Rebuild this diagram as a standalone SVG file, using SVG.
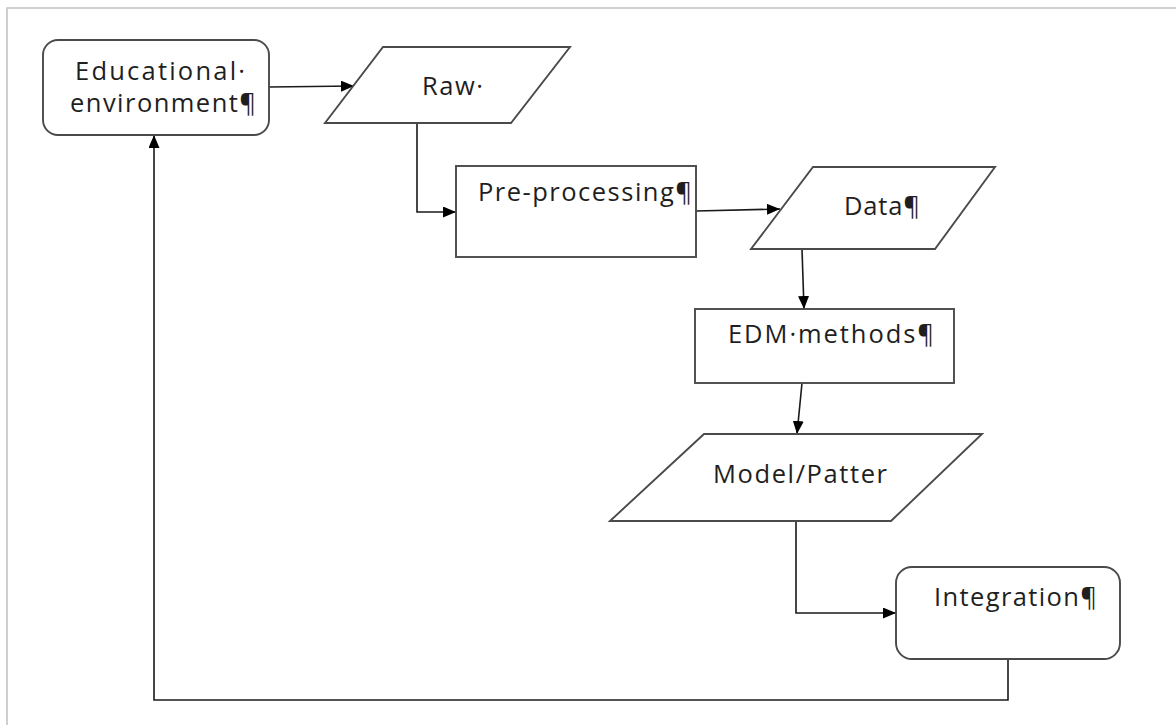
<svg xmlns="http://www.w3.org/2000/svg" width="1176" height="725" viewBox="0 0 1176 725">
<style>
  .shape { fill: #ffffff; stroke: #4a4a4a; stroke-width: 1.9; }
  .conn { fill: none; stroke: #1a1a1a; stroke-width: 1.6; }
  .lbl { font-family: "Open Sans", Lato, "Liberation Sans", sans-serif; font-size: 25.5px; fill: #1f1f1f; font-variant-ligatures: none; }
</style>
<defs>
  <marker id="arrow" viewBox="0 0 13 11" refX="13" refY="5.5" markerWidth="13" markerHeight="11" markerUnits="userSpaceOnUse" orient="auto">
    <path d="M0,0 L13,5.5 L0,11 z" fill="#000000"/>
  </marker>
</defs>
<rect x="0" y="0" width="1176" height="725" fill="#ffffff"/>
<path d="M7,725 L7,8 L1176,8" fill="none" stroke="#c0c0c0" stroke-width="1.5"/>

<g id="connectors">
  <path class="conn" d="M269,87 L354,86" marker-end="url(#arrow)"/>
  <path class="conn" d="M417,123 L417,212 L456,212" marker-end="url(#arrow)"/>
  <path class="conn" d="M696,211 L780,209" marker-end="url(#arrow)"/>
  <path class="conn" d="M802,249 L804,309" marker-end="url(#arrow)"/>
  <path class="conn" d="M802,383 L797,434" marker-end="url(#arrow)"/>
  <path class="conn" d="M796,521 L796,613 L896,613" marker-end="url(#arrow)"/>
  <path class="conn" d="M1008,659 L1008,700 L154,700 L154,135" marker-end="url(#arrow)"/>
</g>

<g id="node-educational">
  <rect class="shape" x="43" y="40" width="226" height="95" rx="15" ry="15"/>
  <text class="lbl" x="75" y="80" textLength="170">Educational·</text>
  <text class="lbl" x="70" y="112" textLength="186">environment¶</text>
</g>

<g id="node-raw">
  <polygon class="shape" points="383,47 570,47 511,123 325,123"/>
  <text class="lbl" x="422" y="95" textLength="61">Raw·</text>
</g>

<g id="node-preprocessing">
  <rect class="shape" x="456" y="166" width="240" height="91"/>
  <text class="lbl" x="478" y="201" textLength="214">Pre-processing¶</text>
</g>

<g id="node-data">
  <polygon class="shape" points="813,167 995,167 935,249 751,249"/>
  <text class="lbl" x="844" y="215" textLength="76">Data¶</text>
</g>

<g id="node-edm">
  <rect class="shape" x="695" y="309" width="259" height="74"/>
  <text class="lbl" x="728" y="343" textLength="206">EDM·methods¶</text>
</g>

<g id="node-model">
  <polygon class="shape" points="704,434 982,434 891,521 610,521"/>
  <text class="lbl" x="713" y="483" textLength="174">Model/Patter</text>
</g>

<g id="node-integration">
  <rect class="shape" x="896" y="567" width="224" height="92" rx="16" ry="16"/>
  <text class="lbl" x="934" y="606" textLength="163">Integration¶</text>
</g>
</svg>
